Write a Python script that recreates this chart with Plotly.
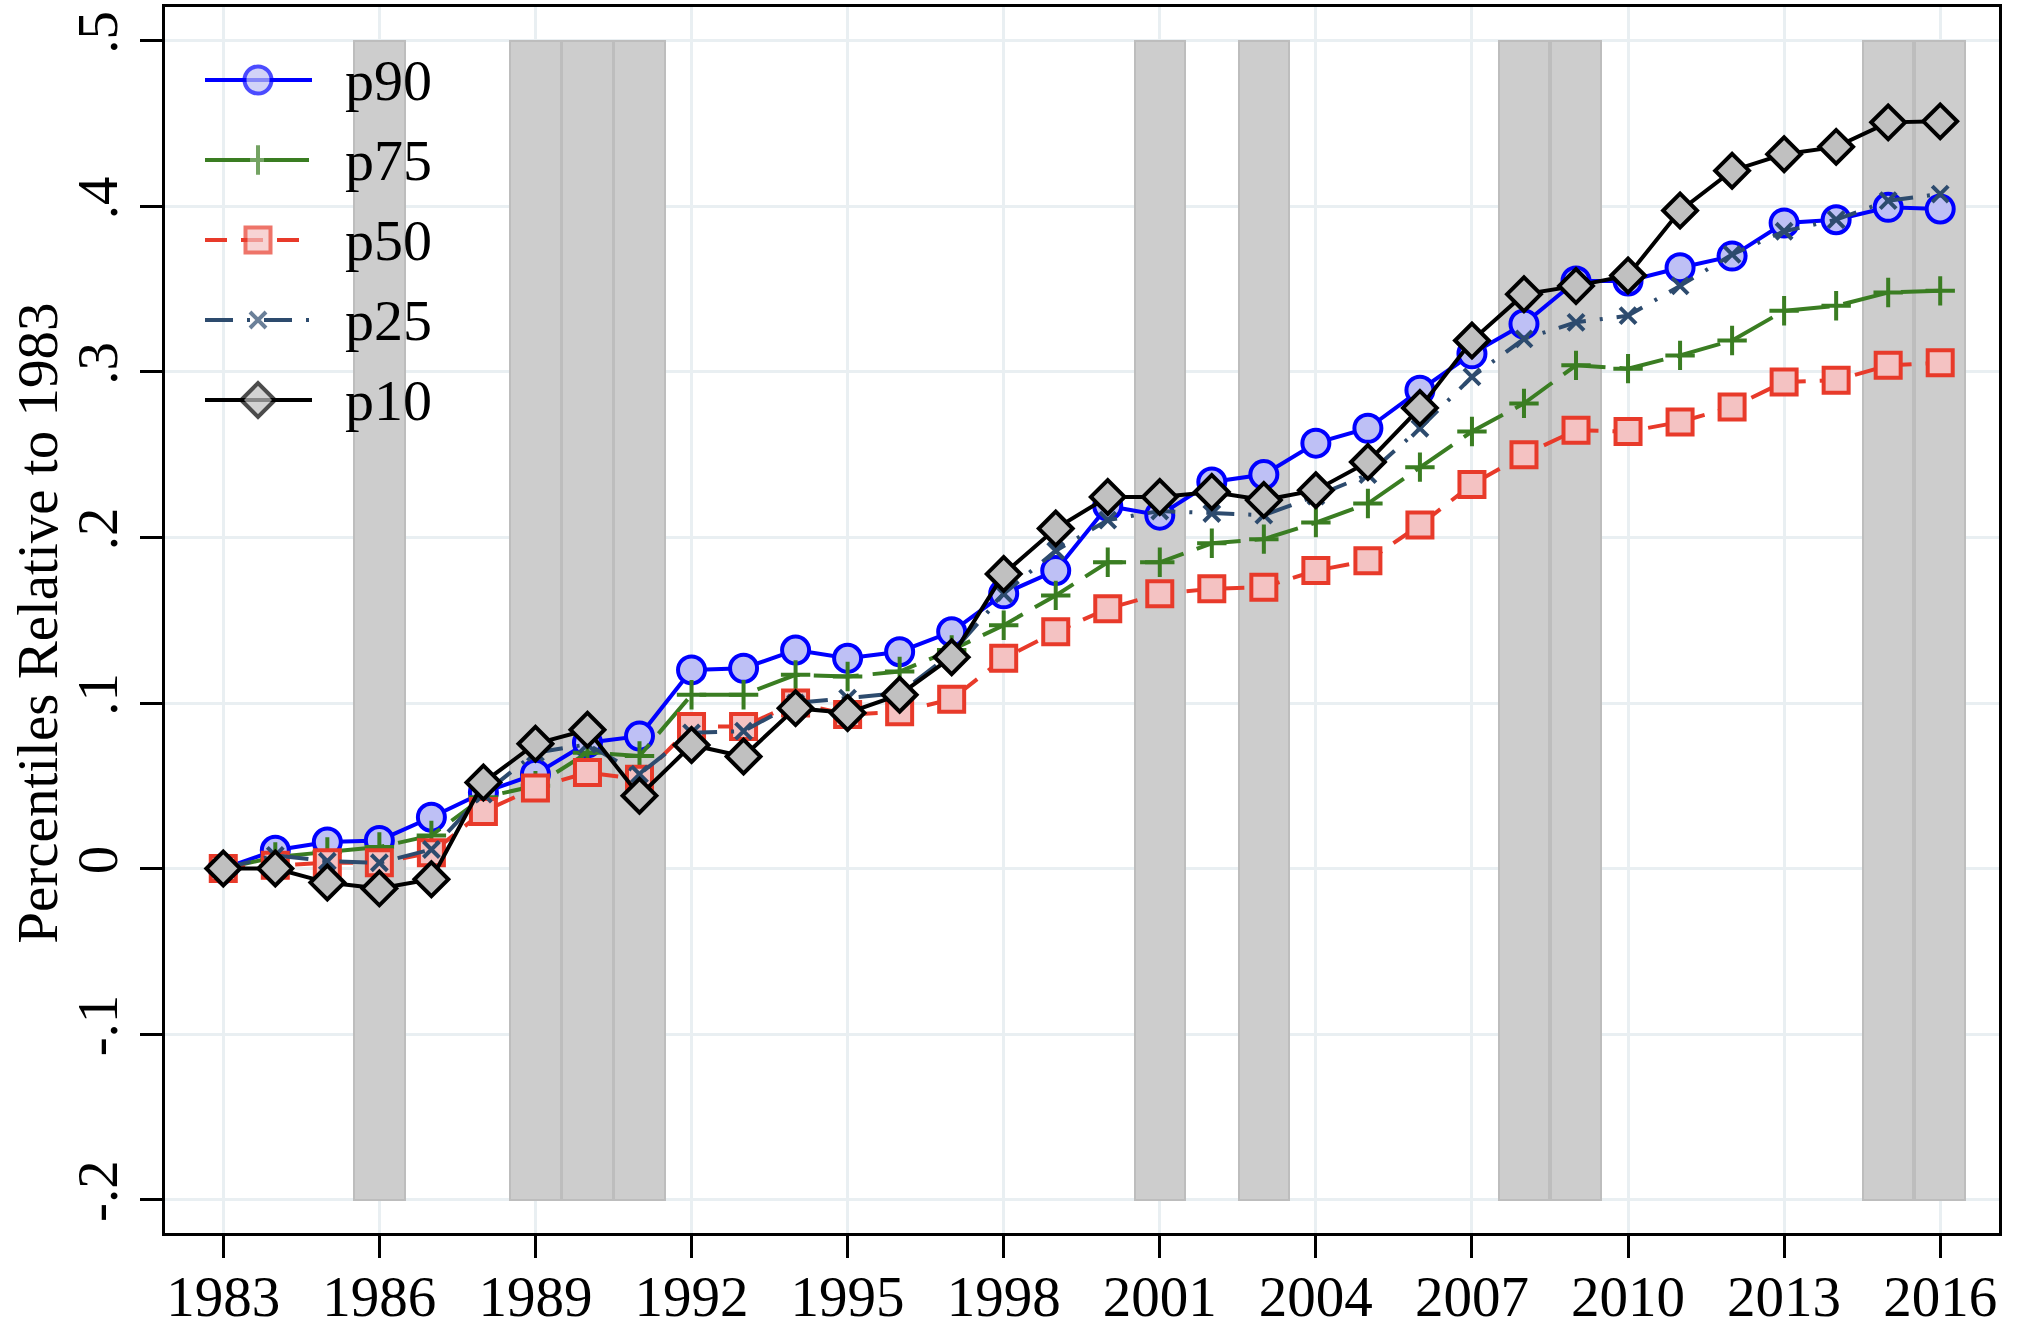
import plotly.graph_objects as go

years = list(range(1983, 2017))

p90 = [0.0, 0.011, 0.016, 0.017, 0.031, 0.046, 0.057, 0.076, 0.080, 0.120, 0.121, 0.132, 0.127, 0.131,
       0.143, 0.166, 0.180, 0.219, 0.2135, 0.2335, 0.238, 0.257, 0.266, 0.289, 0.311, 0.329, 0.355,
       0.355, 0.363, 0.370, 0.390, 0.392, 0.3995, 0.3985]
p75 = [0.0, 0.007, 0.010, 0.013, 0.020, 0.043, 0.050, 0.070, 0.068, 0.105, 0.105, 0.117, 0.116, 0.119,
       0.132, 0.147, 0.165, 0.185, 0.185, 0.1965, 0.199, 0.209, 0.2205, 0.2425, 0.264, 0.281, 0.304,
       0.302, 0.310, 0.319, 0.337, 0.340, 0.348, 0.349]
p50 = [0.0, 0.002, 0.0035, 0.0035, 0.0095, 0.0345, 0.0487, 0.058, 0.054, 0.0858, 0.0858, 0.100, 0.093,
       0.0947, 0.1023, 0.127, 0.143, 0.157, 0.166, 0.169, 0.170, 0.180, 0.186, 0.2075, 0.232, 0.250,
       0.2648, 0.264, 0.2698, 0.2788, 0.294, 0.295, 0.304, 0.3055]
p25 = [0.0, 0.008, 0.0044, 0.0035, 0.0115, 0.045, 0.070, 0.075, 0.057, 0.082, 0.083, 0.100, 0.103, 0.106,
       0.130, 0.166, 0.192, 0.2105, 0.216, 0.2145, 0.2135, 0.225, 0.238, 0.266, 0.297, 0.320, 0.330,
       0.334, 0.352, 0.371, 0.385, 0.392, 0.4035, 0.4075]
p10 = [0.0, 0.0, -0.0085, -0.012, -0.0065, 0.052, 0.0754, 0.0838, 0.044, 0.0746, 0.0677, 0.0969, 0.094,
       0.105, 0.1277, 0.178, 0.2054, 0.2245, 0.2245, 0.2275, 0.2226, 0.2286, 0.2456, 0.2783, 0.319,
       0.347, 0.352, 0.3583, 0.3975, 0.4216, 0.4316, 0.436, 0.4508, 0.4514]

recession_years = [1986, 1989, 1990, 1991, 2001, 2003, 2008, 2009, 2015, 2016]
shade_bottom = -0.2
shade_top = 0.5

x_ticks = list(range(1983, 2017, 3))
y_ticks = [-0.2, -0.1, 0.0, 0.1, 0.2, 0.3, 0.4, 0.5]
y_ticktext = ["-.2", "-.1", "0", ".1", ".2", ".3", ".4", ".5"]

FONT = "Liberation Serif, Times New Roman, serif"

# figure fills the whole 2018x1328 window (body margin removed by post_script)
W, H = 2018, 1328
ML, MT = 165, 7
PLOT_RIGHT, PLOT_BOTTOM = 1999, 1233
MR = W - PLOT_RIGHT
MB = H - PLOT_BOTTOM
PW, PH = W - ML - MR, H - MT - MB

fig = go.Figure()

fig.add_trace(go.Bar(
    x=recession_years,
    y=[shade_top - shade_bottom] * len(recession_years),
    base=shade_bottom,
    width=0.97,
    marker=dict(color="#cdcdcd", line=dict(color="#bdbdbd", width=2)),
    showlegend=False,
    hoverinfo="skip",
))

series = [
    ("p90", p90, dict(color="#0000ff", width=4, dash="solid"),
     dict(symbol="circle", size=27, color="rgb(190,192,245)", line=dict(color="#0000ff", width=4))),
    ("p75", p75, dict(color="rgb(58,125,34)", width=4, dash="45px,14px"),
     dict(symbol="cross-thin", size=21, color="rgb(58,125,34)", line=dict(color="rgb(58,125,34)", width=4))),
    ("p50", p50, dict(color="rgb(232,58,42)", width=4, dash="22px,14px"),
     dict(symbol="square", size=25, color="rgb(244,194,194)", line=dict(color="rgb(232,58,42)", width=4))),
    ("p25", p25, dict(color="rgb(45,75,110)", width=4, dash="28px,14px,3px,14px"),
     dict(symbol="x-thin", size=16, color="rgb(45,75,110)", line=dict(color="rgb(45,75,110)", width=4))),
    ("p10", p10, dict(color="#000000", width=4, dash="solid"),
     dict(symbol="diamond", size=26, color="rgb(192,192,192)", line=dict(color="#000000", width=4))),
]

for name, vals, line, marker in series:
    fig.add_trace(go.Scatter(x=years, y=vals, name=name, mode="lines+markers",
                             line=line, marker=marker, showlegend=False))

# legend keys drawn on an overlay axis measured in pixels of the plot area
leg_line_x = [205 - ML, 258 - ML, 312 - ML]
leg_text_x = 343 - ML
leg_rows_y = [80, 160, 240, 320, 400]
for (name, vals, line, marker), ry in zip(series, leg_rows_y):
    yy = PH - (ry - MT)
    sz = marker["size"]
    mk = dict(symbol=marker["symbol"], color=marker["color"], size=[0, sz, 0],
              line=dict(color=marker["line"]["color"], width=[0, 4, 0]))
    fig.add_trace(go.Scatter(
        x=leg_line_x, y=[yy] * 3, mode="lines+markers", line=line, marker=mk,
        xaxis="x2", yaxis="y2", showlegend=False, hoverinfo="skip",
    ))
    fig.add_annotation(text=name, xref="x2", yref="y2", x=leg_text_x, y=yy,
                       xanchor="left", yanchor="middle", showarrow=False,
                       font=dict(family=FONT, size=58, color="black"))

fig.update_layout(
    width=W, height=H,
    margin=dict(l=ML, r=MR, t=MT, b=MB, pad=0),
    paper_bgcolor="white", plot_bgcolor="white",
    font=dict(family=FONT, size=57, color="black"),
    showlegend=False,
    bargap=0,
    xaxis2=dict(overlaying="x", range=[0, PW], visible=False, fixedrange=True),
    yaxis2=dict(overlaying="y", range=[0, PH], visible=False, fixedrange=True),
)

fig.layout.xaxis.update(
    range=[1981.88, 2017.13], tickvals=x_ticks, ticktext=[str(t) for t in x_ticks],
    showgrid=True, gridcolor="#e9eff2", gridwidth=3, zeroline=False,
    showline=True, linecolor="black", linewidth=3, mirror=True,
    ticks="outside", ticklen=22, tickwidth=3, tickcolor="black",
    tickfont=dict(family=FONT, size=57), automargin=False,
    ticklabelstandoff=-10,
)
fig.layout.yaxis.update(
    range=[-0.2202, 0.5205], tickvals=y_ticks, ticktext=y_ticktext, tickangle=-90,
    showgrid=True, gridcolor="#e9eff2", gridwidth=3, zeroline=False,
    showline=True, linecolor="black", linewidth=3, mirror=True,
    ticks="outside", ticklen=22, tickwidth=3, tickcolor="black",
    tickfont=dict(family=FONT, size=57), automargin=False,
)

fig.add_annotation(
    text="Percentiles Relative to 1983", textangle=-90,
    xref="paper", yref="paper", x=(38 - ML) / PW, y=0.497,
    xanchor="center", yanchor="middle", showarrow=False,
    font=dict(family=FONT, size=57, color="black"),
)

fig.write_html(
    "out.html",
    config={"displayModeBar": False},
    post_script="document.body.style.margin='0';document.body.style.overflow='hidden';",
)
